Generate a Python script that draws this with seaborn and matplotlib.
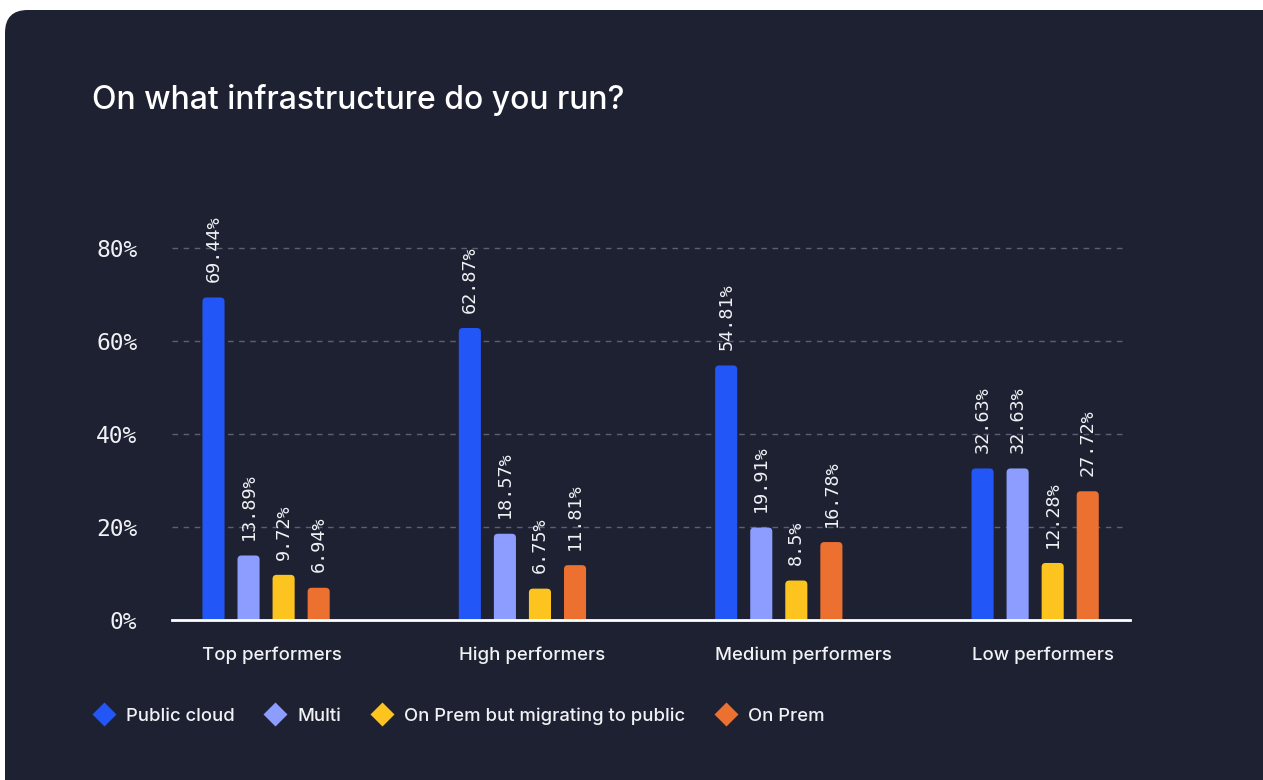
import matplotlib
matplotlib.use("Agg")
import matplotlib.pyplot as plt
from matplotlib.patches import FancyBboxPatch
from matplotlib.lines import Line2D
import seaborn as sns
import pandas as pd

# --- data -------------------------------------------------------------
groups = ["Top performers", "High performers", "Medium performers", "Low performers"]
series = ["Public cloud", "Multi", "On Prem but migrating to public", "On Prem"]
public_cloud = [69.44, 62.87, 54.81, 32.63]
multi = [13.89, 18.57, 19.91, 32.63]
migrating = [9.72, 6.75, 8.5, 12.28]
on_prem = [6.94, 11.81, 16.78, 27.72]
y_ticks = [0, 20, 40, 60, 80]
y_tick_labels = ["0%", "20%", "40%", "60%", "80%"]
title = "On what infrastructure do you run?"

colors = ["#2356f6", "#8c9cff", "#fdc420", "#ec7131"]

rows = []
for name, vals in zip(series, [public_cloud, multi, migrating, on_prem]):
    for g, v in zip(groups, vals):
        rows.append({"group": g, "series": name, "value": v})
df = pd.DataFrame(rows)

# --- style --------------------------------------------------------------
sns.set_theme(style="white")
plt.rcParams["font.family"] = ["Inter", "DejaVu Sans"]
card_bg = "#1d2131"
text_col = "#f1f2f6"
mono = ["DejaVu Sans Mono"]

W, H = 1263, 780
fig = plt.figure(figsize=(W / 100, H / 100), dpi=100, facecolor="white")

# dark rounded card behind everything
card = FancyBboxPatch((5 / W, -30 / H), (W + 30) / W, (H + 20) / H,
                      boxstyle="round,pad=0,rounding_size=0.018",
                      mutation_aspect=W / H,
                      transform=fig.transFigure, facecolor=card_bg,
                      edgecolor="none", zorder=-5)
fig.patches.append(card)

ax = fig.add_axes([172 / W, 1 - 620 / H, (1130 - 172) / W, (620 - 202) / H])
ax.set_facecolor("none")
ax.set_zorder(2)

group_width = 0.547
bar_gap = 0.37
sns.barplot(data=df, x="group", y="value", hue="series", order=groups,
            hue_order=series, palette=dict(zip(series, colors)),
            width=group_width, gap=bar_gap, saturation=1, legend=False, ax=ax,
            edgecolor="none", linewidth=0, errorbar=None)

ax.set_xlim(-0.367, 3.37)
ax.set_ylim(0, 90)

# value labels above each bar
for cont, vals in zip(ax.containers, [public_cloud, multi, migrating, on_prem]):
    ax.bar_label(cont, labels=[f"{v:g}%" for v in vals], rotation=90,
                 padding=11, color=text_col, fontsize=13.3, family=mono)

# left edge of the first bar in each group, used to anchor the group names
first_bar_left = [r.get_x() for r in ax.containers[0].patches]

# swap plain rectangles for bars with rounded tops
radius_x = 4 / 256
aspect = (256 / 4.65)
for cont in ax.containers:
    for rect in cont.patches:
        x, w = rect.get_x(), rect.get_width()
        h = rect.get_height()
        rounded = FancyBboxPatch((x, -2), w, h + 2,
                                 boxstyle=f"round,pad=0,rounding_size={radius_x}",
                                 mutation_aspect=aspect,
                                 facecolor=rect.get_facecolor(),
                                 edgecolor="none", zorder=2)
        ax.add_patch(rounded)
        rect.set_visible(False)

# grid and axes
for yv in y_ticks[1:]:
    ax.axhline(yv, xmin=0, xmax=0.992, color="#5c6172", lw=1,
               ls=(0, (4, 4)), zorder=1)
for side in ["top", "right", "left"]:
    ax.spines[side].set_visible(False)
ax.spines["bottom"].set_color("white")
ax.spines["bottom"].set_linewidth(2)
ax.spines["bottom"].set_zorder(3)

ax.set_yticks(y_ticks)
ax.set_yticklabels(y_tick_labels, family=mono, fontsize=16.5, color=text_col)
ax.tick_params(axis="y", length=0, pad=25)
ax.set_xticks(first_bar_left)
ax.set_xticklabels(groups, fontsize=13.4, fontweight="medium", color=text_col,
                   ha="left")
ax.tick_params(axis="x", length=0, pad=19)
ax.set_xlabel("")
ax.set_ylabel("")

fig.text(92 / W, 1 - 100 / H, title, fontsize=23, color="white",
         ha="left", va="center", fontweight="medium")

handles = [Line2D([], [], marker="D", ls="none", markersize=12,
                  markerfacecolor=c, markeredgecolor="none") for c in colors]
fig.legend(handles, series, loc="center left", ncol=4, frameon=False,
           bbox_to_anchor=(76 / W, 1 - 716 / H),
           prop={"size": 13.3, "weight": "medium"},
           labelcolor=text_col, handletextpad=0.6, columnspacing=1.6,
           handlelength=1.2)

fig.savefig("out.png", dpi=100, facecolor="white")
